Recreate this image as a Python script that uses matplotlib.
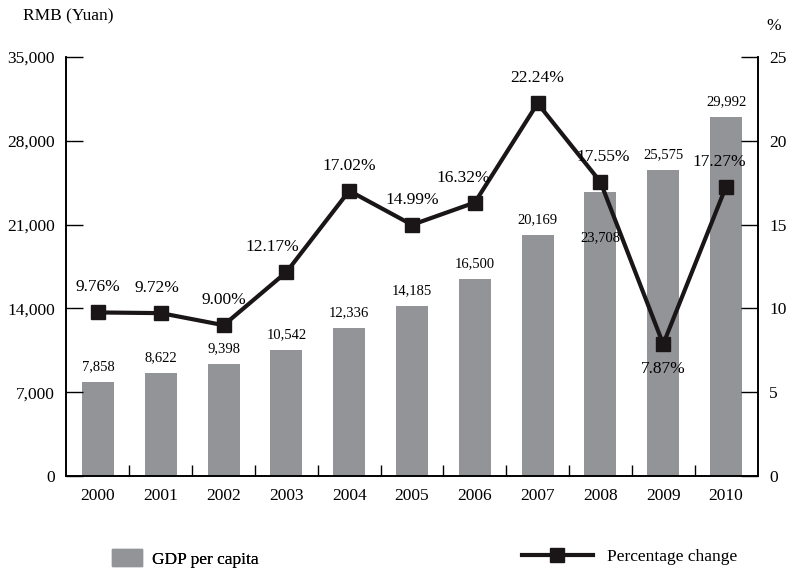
import numpy as np
import matplotlib
matplotlib.use('Agg')
import matplotlib.pyplot as plt
from matplotlib.patches import Patch
from matplotlib.lines import Line2D

plt.rcParams['font.family'] = ['Liberation Serif', 'DejaVu Serif']

# GDP per capita and its annual growth
years = ['2000', '2001', '2002', '2003', '2004', '2005',
         '2006', '2007', '2008', '2009', '2010']
gdp = [7858, 8622, 9398, 10542, 12336, 14185, 16500, 20169, 23708, 25575, 29992]
pct = [9.76, 9.72, 9.00, 12.17, 17.02, 14.99, 16.32, 22.24, 17.55, 7.87, 17.27]

bar_color = '#939498'
line_color = '#1a1617'
x = np.arange(len(years))

fig = plt.figure(figsize=(7.87, 5.71), dpi=100)
ax = fig.add_axes((0.0839, 0.1664, 0.8793, 0.7336))
ax2 = ax.twinx()

ax.bar(x, gdp, width=0.51, color=bar_color, zorder=1)
ax.set_xlim(-0.51, len(years) - 0.49)
ax.set_ylim(0, 35000)
ax.set_yticks(np.arange(0, 35001, 7000))
ax.set_yticklabels(['{:,}'.format(v) for v in range(0, 35001, 7000)])
ax.set_xticks(x)
ax.set_xticklabels(years)
ax.set_xticks(x[:-1] + 0.5, minor=True)

ax.tick_params(axis='x', which='major', length=0, pad=9, labelsize=12.5)
ax.tick_params(axis='x', which='minor', direction='in', length=8, width=1)
ax.tick_params(axis='y', direction='in', length=12, width=1, pad=8, labelsize=12.5)

ax.spines['top'].set_visible(False)
ax2.spines['top'].set_visible(False)
for a in (ax, ax2):
    for sp in a.spines.values():
        sp.set_linewidth(1.2)

# bar value labels (2008 sits inside its bar, under the line)
for i, v in enumerate(gdp):
    dy = -33 if years[i] == '2008' else 11
    ax.annotate('{:,}'.format(v), (i, v), xytext=(0, dy), textcoords='offset points',
                ha='center', va='center', fontsize=10.5, zorder=3)

ax2.plot(x, pct, color=line_color, lw=3, marker='s', markersize=10, zorder=4)
ax2.set_ylim(0, 25)
ax2.set_yticks(np.arange(0, 26, 5))
ax2.tick_params(axis='y', direction='in', length=12, width=1, pad=8, labelsize=12.5)

# growth labels; a few nudged left to clear the line
nudge = {'2001': -3, '2003': -10, '2006': -8, '2010': -5, '2008': 2}
for i, v in enumerate(pct):
    dy = -18 if years[i] == '2009' else 18
    ax2.annotate('{:.2f}%'.format(v), (i, v), xytext=(nudge.get(years[i], 0), dy),
                 textcoords='offset points', ha='center', va='center',
                 fontsize=12.5, zorder=5)

fig.text(0.029, 0.972, 'RMB (Yuan)', ha='left', va='center', fontsize=12.5)
fig.text(0.983, 0.955, '%', ha='center', va='center', fontsize=12.5)

leg1 = fig.legend(handles=[Patch(color=bar_color, label='GDP per capita')],
                  loc='center left', bbox_to_anchor=(0.122, 0.022), frameon=False,
                  fontsize=12.5, handlelength=1.75, handleheight=1.1, handletextpad=0.6)
leg2 = fig.legend(handles=[Line2D([], [], color=line_color, lw=3, marker='s', markersize=10,
                                  label='Percentage change')],
                  loc='center left', bbox_to_anchor=(0.643, 0.025), frameon=False,
                  fontsize=12.5, handlelength=4.1, handletextpad=0.8)
fig.add_artist(leg1)

fig.savefig('out.png', dpi=100)
